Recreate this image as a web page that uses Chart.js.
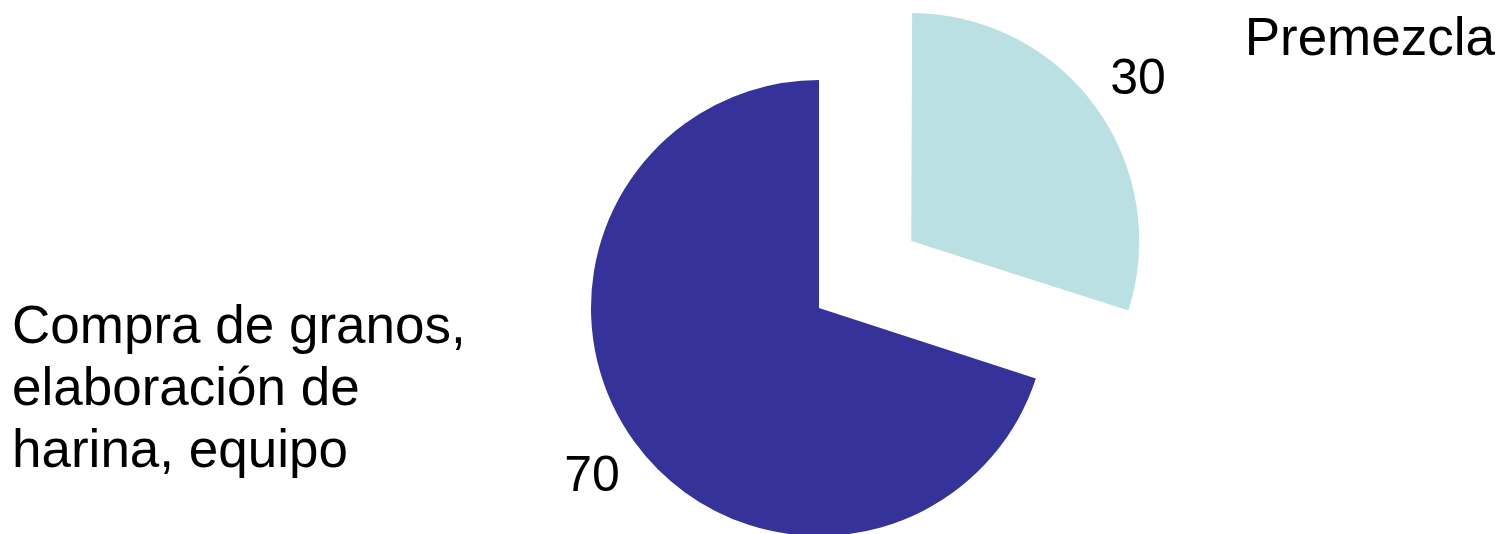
<!DOCTYPE html>
<html>
<head>
<meta charset="utf-8">
<style>
  html, body { margin: 0; padding: 0; background: #ffffff; }
  #wrap { width: 1500px; height: 534px; position: relative; }
</style>
<script src="https://cdn.jsdelivr.net/npm/chart.js@4.4.1/dist/chart.umd.min.js"></script>
</head>
<body>
<div id="wrap"><canvas id="c" width="1500" height="534"></canvas></div>
<script>
// ---- data ----
const categories = ["Premezcla", ["Compra de granos,", "elaboración de", "harina, equipo"]];
const values = [30, 70];
const colors = ["#BBE0E3", "#353399"];
const explode = [114, 0];

const VALUE_FONT = '50px "Liberation Sans", Arial, sans-serif';
const CAT_FONT = '53px "Liberation Sans", Arial, sans-serif';

const labelPlugin = {
  id: 'sliceLabels',
  afterDatasetsUpdate(chart) {
    // keep exploded slice the same radius as the others
    const meta = chart.getDatasetMeta(0);
    meta.data.forEach((arc, i) => {
      const off = explode[i];
      if (!off) return;
      const circ = arc.endAngle - arc.startAngle;
      const fix = 1 - Math.sin(Math.min(Math.PI, circ));
      arc.outerRadius = arc.outerRadius - off * fix;
    });
  },
  afterDatasetsDraw(chart) {
    const ctx = chart.ctx;
    const meta = chart.getDatasetMeta(0);
    ctx.save();
    ctx.font = VALUE_FONT;
    ctx.fillStyle = '#000000';
    ctx.textAlign = 'center';
    ctx.textBaseline = 'middle';
    meta.data.forEach((arc, i) => {
      const mid = (arc.startAngle + arc.endAngle) / 2;
      const off = explode[i];
      const cx = arc.x + Math.cos(mid) * off;
      const cy = arc.y + Math.sin(mid) * off;
      const r = 228 * 1.23;
      ctx.fillText(String(values[i]), cx + Math.cos(mid) * r, cy + Math.sin(mid) * r + 4);
    });
    // category labels
    ctx.font = CAT_FONT;
    ctx.textBaseline = 'alphabetic';
    ctx.textAlign = 'right';
    ctx.fillText(categories[0], 1495, 55);
    ctx.textAlign = 'left';
    categories[1].forEach((line, k) => ctx.fillText(line, 12, 343 + k * 62));
    ctx.restore();
  }
};

new Chart(document.getElementById('c'), {
  type: 'pie',
  data: {
    labels: ["Premezcla", "Compra de granos, elaboración de harina, equipo"],
    datasets: [{
      data: values,
      backgroundColor: colors,
      borderWidth: 0,
      offset: explode.map(v => v * 4)
    }]
  },
  options: {
    responsive: false,
    animation: false,
    radius: 228,
    cutout: '0%',
    rotation: 0,
    layout: { padding: { left: 138, right: 0, top: 82, bottom: 0 } },
    plugins: {
      legend: { display: false },
      tooltip: { enabled: false }
    },
    events: []
  },
  plugins: [labelPlugin]
});
</script>
</body>
</html>
